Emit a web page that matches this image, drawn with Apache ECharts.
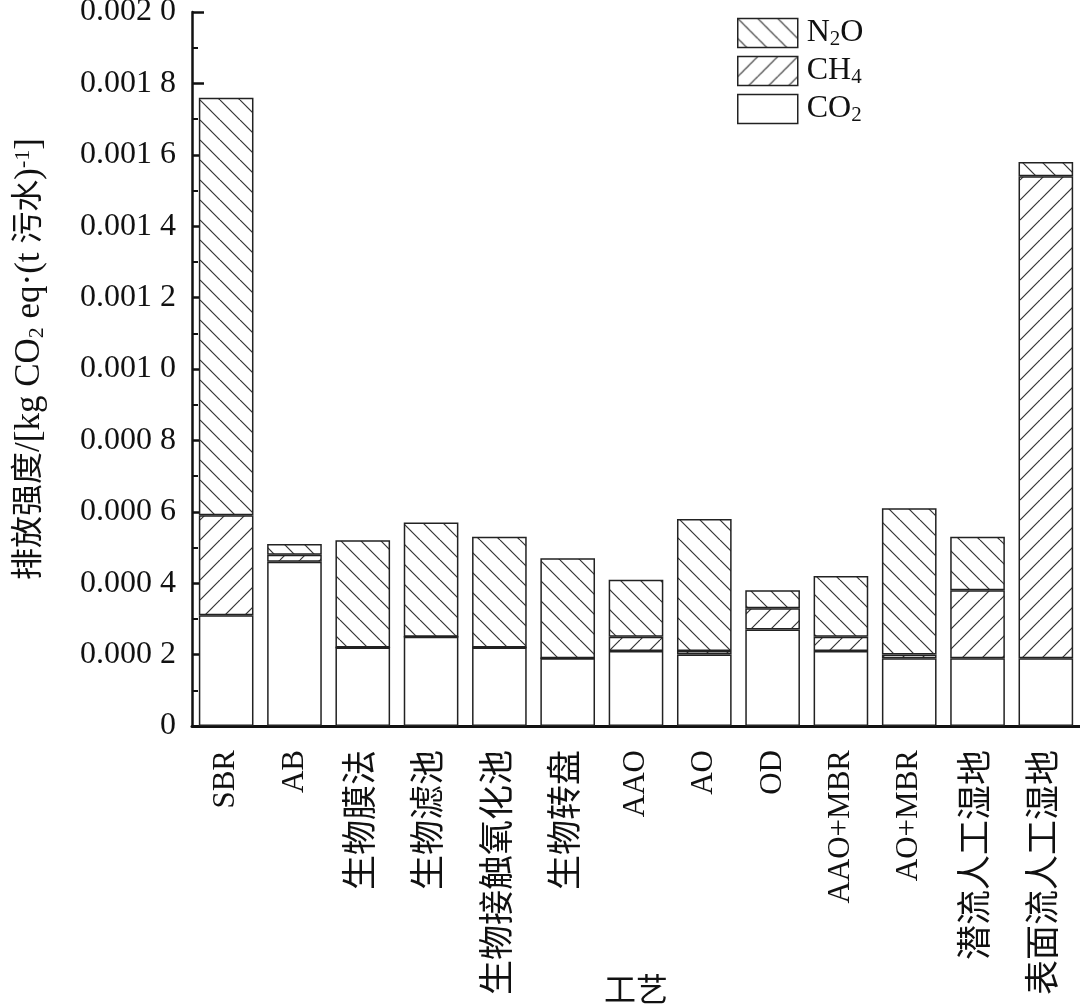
<!DOCTYPE html>
<html><head><meta charset="utf-8">
<script src="https://cdn.jsdelivr.net/npm/echarts@6/dist/echarts.min.js"></script>
<style>html,body{margin:0;padding:0;background:#fff}#c{width:1080px;height:1007px}</style>
</head><body><div id="c"></div>
<script>
const categories = ['SBR','AB','生物膜法','生物滤池','生物接触氧化池','生物转盘','AAO','AO','OD','AAO+MBR','AO+MBR','潜流人工湿地','表面流人工湿地'];
const co2 = [0.00031,0.00046,0.00022,0.00025,0.00022,0.00019,0.00021,0.00020,0.00027,0.00021,0.00019,0.00019,0.00019];
const ch4 = [0.00028,0.00002,0,0,0,0,0.00004,0.00001,0.00006,0.00004,0.00001,0.00019,0.00135];
const n2o = [0.00117,0.00003,0.00030,0.00032,0.00031,0.00028,0.00016,0.00037,0.00005,0.00017,0.00041,0.00015,0.00004];
const yTickLabels = ['0','0.000 2','0.000 4','0.000 6','0.000 8','0.001 0','0.001 2','0.001 4','0.001 6','0.001 8','0.002 0'];
const seriesNames = ['CO2','CH4','N2O'];
const legendRich = {'N2O':'{a|N}{s|2}{a|O}','CH4':'{a|CH}{s|4}','CO2':'{a|CO}{s|2}'};

const FONT = "'Liberation Serif','Times New Roman','Noto Sans CJK SC',serif";
const rich = {
  a:{fontSize:32,lineHeight:34,fontFamily:FONT,color:'#111'},
  s:{fontSize:21,lineHeight:8,verticalAlign:'bottom',fontFamily:FONT,color:'#111'}
};
const nameRich = {
  a:{fontSize:35,lineHeight:36,fontFamily:FONT,color:'#111'},
  c:{fontSize:32,lineHeight:36,fontFamily:FONT,color:'#111'},
  s:{fontSize:22,lineHeight:12,verticalAlign:'bottom',fontFamily:FONT,color:'#111'},
  p:{fontSize:22,lineHeight:16,verticalAlign:'top',fontFamily:FONT,color:'#111'}
};

function hatch(dir){
  const s=20; const c=document.createElement('canvas'); c.width=s; c.height=s;
  const g=c.getContext('2d'); g.fillStyle='#fff'; g.fillRect(0,0,s,s);
  g.strokeStyle='#333'; g.lineWidth=1.2;
  for (const k of [-s,0,s]) {
    g.beginPath();
    if (dir==='back') { g.moveTo(k,0); g.lineTo(k+s,s); }
    else { g.moveTo(k,s); g.lineTo(k+s,0); }
    g.stroke();
  }
  return c;
}
const fills = {'CO2':'#ffffff','CH4':{image:hatch('fwd'),repeat:'repeat'},'N2O':{image:hatch('back'),repeat:'repeat'}};
const dataMap = {'CO2':co2,'CH4':ch4,'N2O':n2o};

const chart = echarts.init(document.getElementById('c'));
chart.setOption({
  animation:false,
  backgroundColor:'#fff',
  grid:{left:192,right:0,top:12,bottom:281,outerBoundsMode:'none',containLabel:false},
  legend:{
    data:['N2O','CH4','CO2'], orient:'vertical', left:737, top:17, padding:0,
    itemWidth:60, itemHeight:29, itemGap:5, icon:'rect',
    formatter:n=>legendRich[n],
    textStyle:{rich:rich,padding:[0,0,0,4]},
    itemStyle:{borderColor:'#222',borderWidth:1.5}
  },
  xAxis:[{
    type:'category', data:categories, position:'bottom',
    axisLine:{lineStyle:{color:'#111',width:3}},
    axisTick:{inside:true,alignWithLabel:true,length:12,lineStyle:{color:'#111',width:2.5}},
    axisLabel:{rotate:90,fontSize:31,margin:24,color:'#111',fontFamily:FONT,interval:0,
      formatter:v=>/[\u4e00-\u9fff]/.test(v)?'{c|'+v+'}':v,
      rich:{c:{fontSize:35,fontFamily:FONT,color:'#111'}}},
    name:'工艺', nameLocation:'middle', nameGap:251, nameMoveOverlap:false,
    nameTextStyle:{fontSize:32,color:'#111',fontFamily:FONT}
  },{
    type:'category', data:categories, position:'bottom',
    axisLine:{show:false},
    axisTick:{inside:true,length:6,interval:0,lineStyle:{color:'#111',width:2.5}},
    axisLabel:{show:false}
  }],
  yAxis:{
    type:'value', min:0, max:0.002, interval:0.0002,
    axisLine:{show:true,lineStyle:{color:'#111',width:2.5}},
    axisTick:{show:true,inside:true,length:12,lineStyle:{color:'#111',width:2.5}},
    minorTick:{show:true,splitNumber:2,length:6,lineStyle:{color:'#111',width:2}},
    splitLine:{show:false},
    axisLabel:{fontSize:32,margin:16,color:'#111',fontFamily:FONT,
      formatter:v=>yTickLabels[Math.round(v/0.0002)]},
    name:'{c|排放强度}{a|/[kg CO}{s|2}{a| eq·(t }{c|污水}{a|)}{p|-1}{a|]}',
    nameLocation:'middle', nameGap:144, nameMoveOverlap:false,
    nameTextStyle:{rich:nameRich,padding:[0,0,0,20]}
  },
  series: seriesNames.map(n=>({
    name:n, type:'bar', stack:'total', barWidth:'80%',
    data:dataMap[n],
    itemStyle:{color:fills[n],borderColor:'#222',borderWidth:1.5}
  }))
});
</script></body></html>
